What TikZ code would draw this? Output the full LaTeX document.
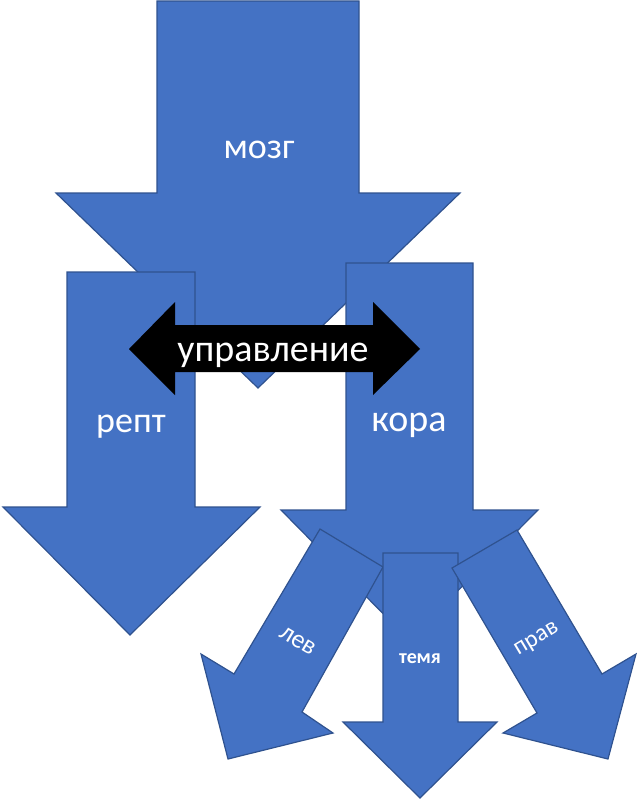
\documentclass[tikz,border=0pt]{standalone}
\usepackage{fontspec}
\setmainfont{Carlito}
\definecolor{ablue}{HTML}{4472C4}
\definecolor{aedge}{HTML}{2F528F}
\begin{document}
\begin{tikzpicture}[x=1pt,y=-1pt,
  arrowshape/.style={fill=ablue,draw=aedge,line width=1.2pt,line join=miter},
  lbl/.style={text=white,inner sep=0pt,anchor=base}]
\useasboundingbox (0,0) rectangle (637,800);
% мозг
\draw[arrowshape] (157,1) -- (359,1) -- (359,193) -- (460,193) -- (258,388) -- (56,193) -- (157,193) -- cycle;
% репт
\draw[arrowshape] (67,272) -- (195,272) -- (195,507) -- (260,507) -- (130,635) -- (3,507) -- (67,507) -- cycle;
% кора
\draw[arrowshape] (346,263) -- (473,263) -- (473,510) -- (538,510) -- (409,640) -- (281,510) -- (346,510) -- cycle;
% управление
\fill[black] (129,349) -- (175,302) -- (175,325) -- (373,325) -- (373,302) -- (420,349) -- (373,395) -- (373,372) -- (175,372) -- (175,395) -- cycle;
% лев
\draw[arrowshape] (320,529) -- (383,567) -- (302,712) -- (333,733) -- (228,759) -- (201,654) -- (234,674) -- cycle;
% темя
\draw[arrowshape] (383,553) -- (458,553) -- (458,722) -- (497,722) -- (420,798) -- (343,722) -- (383,722) -- cycle;
% прав
\draw[arrowshape] (517,530) -- (452,568) -- (537,713) -- (503,733) -- (608,759) -- (636,654) -- (602,674) -- cycle;
% labels
\node[lbl,font=\fontsize{36}{40}\selectfont] (mozg) at (259,158) {мозг};
\node[lbl,font=\fontsize{38}{42}\selectfont] (upr) at (273,361) {управление};
\node[lbl,font=\fontsize{36}{40}\selectfont] (rept) at (131,432) {репт};
\node[lbl,font=\fontsize{38}{42}\selectfont] (kora) at (409,431) {кора};
\node[text=white,inner sep=0pt,rotate=-31,font=\fontsize{26}{30}\selectfont] (lev) at (298,641) {лев};
\node[lbl,font=\bfseries\fontsize{20}{24}\selectfont] (temya) at (420,663) {темя};
\node[text=white,inner sep=0pt,rotate=31,font=\fontsize{24}{28}\selectfont] (prav) at (537,640) {прав};
\end{tikzpicture}
\end{document}
